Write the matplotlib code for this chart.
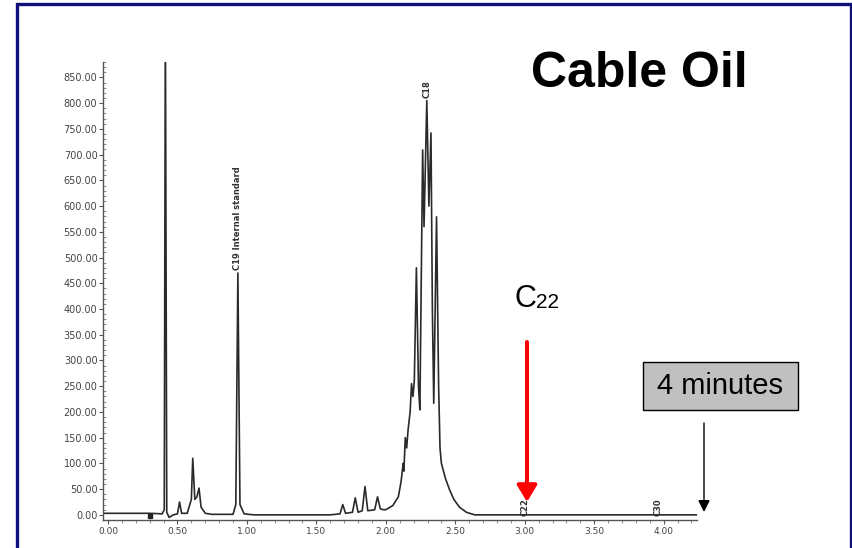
import matplotlib
matplotlib.use("Agg")
import matplotlib.pyplot as plt
from matplotlib.patches import Rectangle
from matplotlib.ticker import MultipleLocator, FormatStrFormatter
import numpy as np

# retention time (min) and detector response for the cable oil run
times = [-0.03, 0.30, 0.39, 0.405, 0.413, 0.423, 0.44, 0.47, 0.50, 0.515, 0.53,
         0.57, 0.60, 0.61, 0.625, 0.64, 0.655, 0.67, 0.70, 0.75, 0.90, 0.92,
         0.935, 0.95, 0.98, 1.05, 1.60, 1.67, 1.69, 1.71, 1.76, 1.78, 1.80, 1.83,
         1.85, 1.87, 1.92, 1.94, 1.96, 1.98, 2.00, 2.05, 2.09, 2.11, 2.125, 2.13,
         2.14, 2.15, 2.16, 2.175, 2.185, 2.195, 2.205, 2.22, 2.235, 2.245, 2.265,
         2.275, 2.295, 2.31, 2.325, 2.335, 2.345, 2.365, 2.38, 2.39, 2.40, 2.43,
         2.46, 2.49, 2.53, 2.58, 2.64, 4.24]
signal = [3, 3, 2, 10, 980, 5, -5, 0, 2, 25, 3,
          3, 30, 110, 30, 35, 52, 15, 3, 1, 1, 20,
          470, 20, 2, 0, 0, 2, 20, 3, 5, 33, 5, 8,
          55, 8, 10, 35, 12, 10, 10, 18, 35, 65, 100, 85,
          150, 130, 165, 200, 255, 230, 260, 480, 250, 204, 709,
          560, 805, 600, 742, 400, 217, 579, 250, 130, 100, 70,
          48, 30, 15, 5, 0, 0]

# peak names printed on the chromatogram
peak_names = ["C19 Internal standard", "C18", "C22", "C30"]
peak_x = [0.935, 2.295, 3.0, 3.96]
peak_y = [475, 810, -3, -3]

W, H = 853, 548
fig = plt.figure(figsize=(W / 100, H / 100), dpi=100)
fig.patch.set_facecolor("white")

ax = fig.add_axes([103 / W, 1 - 520 / H, (697 - 103) / W, (520 - 62) / H])
ax.plot(times, signal, color="#2a2a2a", lw=1.2)
ax.plot([0.30], [-3], marker="s", ms=3, color="#222222")
ax.set_xlim(-0.036, 4.24)
ax.set_ylim(-10, 880)

for s in ["top", "right"]:
    ax.spines[s].set_visible(False)
for s in ["left", "bottom"]:
    ax.spines[s].set_color("#555555")
    ax.spines[s].set_linewidth(1.0)

ax.yaxis.set_major_locator(MultipleLocator(50))
ax.yaxis.set_minor_locator(MultipleLocator(10))
ax.xaxis.set_major_locator(MultipleLocator(0.5))
ax.xaxis.set_minor_locator(MultipleLocator(0.1))
ax.yaxis.set_major_formatter(FormatStrFormatter("%.2f"))
ax.xaxis.set_major_formatter(FormatStrFormatter("%.2f"))
ax.tick_params(axis="y", which="major", direction="out", length=3, width=0.8,
               pad=1, labelsize=7, colors="#555555", labelcolor="#444444")
ax.tick_params(axis="y", which="minor", direction="in", length=2, width=0.6,
               colors="#777777")
ax.tick_params(axis="x", which="major", direction="out", length=3, width=0.8,
               pad=2, labelsize=6.5, colors="#555555", labelcolor="#444444")
ax.tick_params(axis="x", which="minor", direction="out", length=2, width=0.6,
               colors="#777777")

for name, px, py in zip(peak_names, peak_x, peak_y):
    ax.text(px, py, name, rotation=90, ha="center", va="bottom", fontsize=6,
            color="#333333", fontweight="bold", clip_on=False)

# slide frame
fig.add_artist(Rectangle((17.5 / W, -0.2), (851 - 17.5) / W, 1.2 - 4 / H,
                         transform=fig.transFigure, fill=False,
                         edgecolor="#10107a", lw=2.4))

fig.text(639 / W, 1 - 87 / H, "Cable Oil", ha="center", va="baseline",
         fontsize=36, fontweight="bold", family="Liberation Sans")

fig.text(515 / W, 1 - 307 / H, "C", ha="left", va="baseline", fontsize=22,
         family="Liberation Sans")
fig.text(536 / W, 1 - 308 / H, "22", ha="left", va="baseline", fontsize=15,
         family="Liberation Sans")

# arrow pointing at C22
ax.annotate("", xy=(527, H - 502), xytext=(527, H - 342),
            xycoords="figure pixels", textcoords="figure pixels",
            arrowprops=dict(arrowstyle="-|>,head_length=0.5,head_width=0.3",
                            color="#ff0000", lw=2.9, mutation_scale=20,
                            shrinkA=0, shrinkB=0))

# run time box and arrow
fig.add_artist(Rectangle((643 / W, 1 - 410 / H), 155 / W, 48 / H,
                         transform=fig.transFigure, facecolor="#c0c0c0",
                         edgecolor="black", lw=1.0))
fig.text(720.5 / W, 1 - 386 / H, "4 minutes", ha="center", va="center",
         fontsize=21, family="Liberation Sans")
ax.annotate("", xy=(704, H - 512), xytext=(704, H - 423),
            xycoords="figure pixels", textcoords="figure pixels",
            arrowprops=dict(arrowstyle="-|>,head_length=0.5,head_width=0.25",
                            color="black", lw=1.0, mutation_scale=14,
                            shrinkA=0, shrinkB=0))

fig.savefig("out.png", dpi=100)
